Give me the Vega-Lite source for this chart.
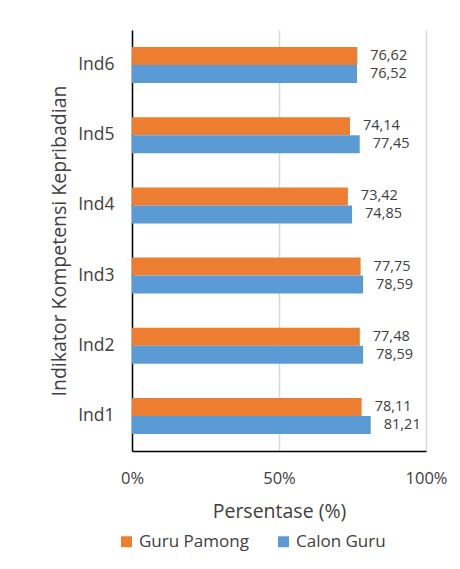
{
  "$schema": "https://vega.github.io/schema/vega-lite/v6.json",
  "width": 294,
  "height": 421,
  "autosize": "none",
  "padding": {"left": 132, "top": 30, "right": 34, "bottom": 118},
  "background": "white",
  "config": {
    "view": {"stroke": null},
    "font": "Open Sans",
    "locale": {"number": {"decimal": ",", "thousands": ".", "grouping": [3], "currency": ["", ""]}}
  },
  "data": {
    "values": [
      {"ind": "Ind1", "series": "Guru Pamong", "value": 78.11},
      {"ind": "Ind1", "series": "Calon Guru", "value": 81.21},
      {"ind": "Ind2", "series": "Guru Pamong", "value": 77.48},
      {"ind": "Ind2", "series": "Calon Guru", "value": 78.59},
      {"ind": "Ind3", "series": "Guru Pamong", "value": 77.75},
      {"ind": "Ind3", "series": "Calon Guru", "value": 78.59},
      {"ind": "Ind4", "series": "Guru Pamong", "value": 73.42},
      {"ind": "Ind4", "series": "Calon Guru", "value": 74.85},
      {"ind": "Ind5", "series": "Guru Pamong", "value": 74.14},
      {"ind": "Ind5", "series": "Calon Guru", "value": 77.45},
      {"ind": "Ind6", "series": "Guru Pamong", "value": 76.62},
      {"ind": "Ind6", "series": "Calon Guru", "value": 76.52}
    ]
  },
  "encoding": {
    "y": {
      "field": "ind", "type": "nominal",
      "sort": ["Ind6", "Ind5", "Ind4", "Ind3", "Ind2", "Ind1"],
      "scale": {"paddingInner": 0.487, "paddingOuter": 0.2435},
      "axis": {
        "title": "Indikator Kompetensi Kepribadian",
        "titleFont": "Open Sans", "titleFontSize": 19.5, "titleFontWeight": "normal", "titleColor": "#404040",
        "titlePadding": 8,
        "labelFont": "Open Sans", "labelFontSize": 17.5, "labelColor": "#404040", "labelPadding": 18,
        "ticks": false, "domainColor": "#000000", "domainWidth": 1.5, "grid": false
      }
    },
    "yOffset": {
      "field": "series", "type": "nominal",
      "sort": ["Guru Pamong", "Calon Guru"],
      "scale": {"paddingInner": 0, "paddingOuter": 0}
    },
    "x": {
      "field": "value", "type": "quantitative",
      "scale": {"domain": [0, 100], "nice": false},
      "axis": {
        "title": "Persentase (%)",
        "values": [0, 50, 100],
        "labelExpr": "datum.value + '%'",
        "labelFlush": false,
        "titleFont": "Open Sans", "titleFontSize": 19.5, "titleFontWeight": "normal", "titleColor": "#404040",
        "titlePadding": 16,
        "labelFont": "Open Sans", "labelFontSize": 16.5, "labelColor": "#404040", "labelPadding": 19,
        "ticks": false, "domainColor": "#000000", "domainWidth": 1.5,
        "grid": true, "gridColor": "#d9d9d9", "gridWidth": 1.5
      }
    }
  },
  "layer": [
    {
      "mark": {"type": "bar"},
      "encoding": {
        "color": {
          "field": "series", "type": "nominal",
          "scale": {"domain": ["Guru Pamong", "Calon Guru"], "range": ["#ED7D31", "#5B9BD5"]},
          "legend": {
            "title": null, "orient": "none", "direction": "horizontal",
            "legendX": -14, "legendY": 503,
            "symbolType": "square", "symbolSize": 120, "symbolStrokeWidth": 0,
            "labelFont": "Open Sans", "labelFontSize": 17, "labelColor": "#404040",
            "columnPadding": 26, "labelOffset": 4
          }
        }
      }
    },
    {
      "mark": {"type": "text", "align": "left", "baseline": "middle", "dx": 13, "fontSize": 14.5, "color": "#404040", "font": "Open Sans"},
      "encoding": {
        "text": {"field": "value", "type": "quantitative", "format": ".2f"}
      }
    }
  ]
}
